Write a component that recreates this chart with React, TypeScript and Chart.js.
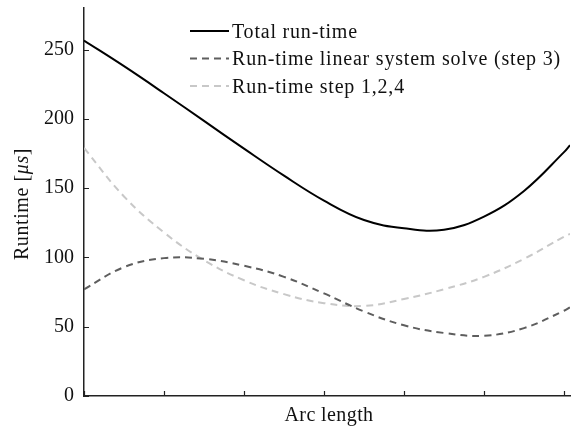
import React, { useEffect, useRef } from "react";
import { Chart, registerables } from "chart.js";

Chart.register(...registerables);

const arcLength = [0, 0.5, 1, 1.5, 2, 2.5, 3, 3.5, 4, 4.5, 5, 5.5, 6, 6.075];
const totalRuntime = [256.5, 238, 218.5, 198.5, 178.5, 159, 141, 127, 121, 120, 129.5, 148, 176, 181];
const linearSolveRuntime = [77, 93, 99.5, 99, 94, 86, 74, 61, 51, 45.5, 43.5, 49, 61.5, 64];
const otherStepsRuntime = [179, 144, 118, 98, 83.5, 73.5, 67, 65, 70, 77, 86, 99, 115, 117];
const seriesLabels = ["Total run-time", "Run-time linear system solve (step 3)", "Run-time step 1,2,4"];
const yTicks = [0, 50, 100, 150, 200, 250];
const xTicks = [0, 1, 2, 3, 4, 5, 6];
const xTitle = "Arc length";
const yTitleParts = [
  { text: "Runtime [", italic: false },
  { text: "μs", italic: true },
  { text: "]", italic: false },
];

const FONT = "'Liberation Serif', 'Times New Roman', serif";

const toPoints = (ys: number[]) => ys.map((y, i) => ({ x: arcLength[i], y }));

const inwardTicks = {
  id: "inwardTicks",
  afterDraw(chart: any) {
    const { ctx, chartArea, scales } = chart;
    ctx.save();
    ctx.strokeStyle = "#222";
    ctx.lineWidth = 1.2;
    ctx.beginPath();
    for (const t of scales.x.ticks) {
      const px = Math.round(scales.x.getPixelForValue(t.value)) + 0.5;
      ctx.moveTo(px, chartArea.bottom);
      ctx.lineTo(px, chartArea.bottom - 5);
    }
    for (const t of scales.y.ticks) {
      const py = Math.round(scales.y.getPixelForValue(t.value)) + 0.5;
      ctx.moveTo(chartArea.left, py);
      ctx.lineTo(chartArea.left + 5, py);
    }
    ctx.stroke();
    ctx.restore();
  },
};

const textDecor = {
  id: "textDecor",
  afterDraw(chart: any) {
    const { ctx, chartArea } = chart;
    ctx.save();
    (ctx as any).letterSpacing = "0.8px";
    ctx.textBaseline = "alphabetic";
    ctx.textAlign = "left";
    // legend
    ctx.font = `20px ${FONT}`;
    chart.data.datasets.forEach((ds: any, i: number) => {
      const y = 31 + i * 27.5;
      ctx.strokeStyle = ds.borderColor;
      ctx.lineWidth = 2;
      ctx.setLineDash(ds.borderDash || []);
      ctx.beginPath();
      ctx.moveTo(190, y);
      ctx.lineTo(229, y);
      ctx.stroke();
      ctx.setLineDash([]);
      ctx.fillStyle = "#111";
      ctx.fillText(ds.label, 232, y + 6.7);
    });
    // x title
    (ctx as any).letterSpacing = "0.4px";
    ctx.font = `20px ${FONT}`;
    ctx.textAlign = "center";
    ctx.fillText(xTitle, (chartArea.left + chartArea.right) / 2 + 2, 421);
    // y title
    (ctx as any).letterSpacing = "0.6px";
    ctx.textAlign = "left";
    const fontFor = (it: boolean) => `${it ? "italic " : ""}20px ${FONT}`;
    let total = 0;
    const widths = yTitleParts.map((p) => {
      ctx.font = fontFor(p.italic);
      const w = ctx.measureText(p.text).width;
      total += w;
      return w;
    });
    ctx.translate(28, 204);
    ctx.rotate(-Math.PI / 2);
    let x = -total / 2;
    yTitleParts.forEach((p, i) => {
      ctx.font = fontFor(p.italic);
      ctx.fillText(p.text, x, 0);
      x += widths[i];
    });
    ctx.restore();
  },
};

export default function App() {
  const canvasRef = useRef<HTMLCanvasElement | null>(null);

  useEffect(() => {
    if (!canvasRef.current) return;
    Chart.defaults.font.family = FONT;
    Chart.defaults.font.size = 20;
    Chart.defaults.color = "#111";
    const chart = new Chart(canvasRef.current, {
      type: "line",
      data: {
        datasets: [
          {
            label: seriesLabels[0],
            data: toPoints(totalRuntime),
            borderColor: "#000000",
            borderWidth: 2,
            pointRadius: 0,
            tension: 0.4,
          },
          {
            label: seriesLabels[1],
            data: toPoints(linearSolveRuntime),
            borderColor: "#5e5e5e",
            borderWidth: 2,
            borderDash: [7, 5],
            pointRadius: 0,
            tension: 0.4,
          },
          {
            label: seriesLabels[2],
            data: toPoints(otherStepsRuntime),
            borderColor: "#c8c8c8",
            borderWidth: 2,
            borderDash: [7, 5],
            pointRadius: 0,
            tension: 0.4,
          },
        ],
      },
      options: {
        responsive: false,
        animation: false,
        layout: { padding: { top: 8, right: 1, left: 0, bottom: 0 } },
        plugins: { legend: { display: false }, tooltip: { enabled: false } },
        scales: {
          x: {
            type: "linear",
            min: 0,
            max: 6.075,
            afterBuildTicks: (s: any) => {
              s.ticks = xTicks.map((v) => ({ value: v }));
            },
            afterFit: (s: any) => {
              s.height = 32;
              s.paddingLeft = 0;
              s.paddingRight = 0;
            },
            ticks: { display: false },
            grid: { display: false, drawTicks: false },
            border: { display: true, color: "#222", width: 1.5 },
            title: { display: false },
          },
          y: {
            type: "linear",
            min: 0,
            max: 280,
            afterBuildTicks: (s: any) => {
              s.ticks = yTicks.map((v) => ({ value: v }));
            },
            afterFit: (s: any) => {
              s.width = 84;
              s.paddingTop = 0;
              s.paddingBottom = 0;
            },
            ticks: { padding: 10, font: { size: 20 } },
            grid: { display: false, drawTicks: false },
            border: { display: true, color: "#222", width: 1.5 },
            title: { display: false },
          },
        },
      },
      plugins: [inwardTicks, textDecor],
    });
    return () => chart.destroy();
  }, []);

  return (
    <div style={{ position: "fixed", left: 0, top: 0, width: 571, height: 428, background: "#fff" }}>
      <canvas ref={canvasRef} width={571} height={428} />
    </div>
  );
}
